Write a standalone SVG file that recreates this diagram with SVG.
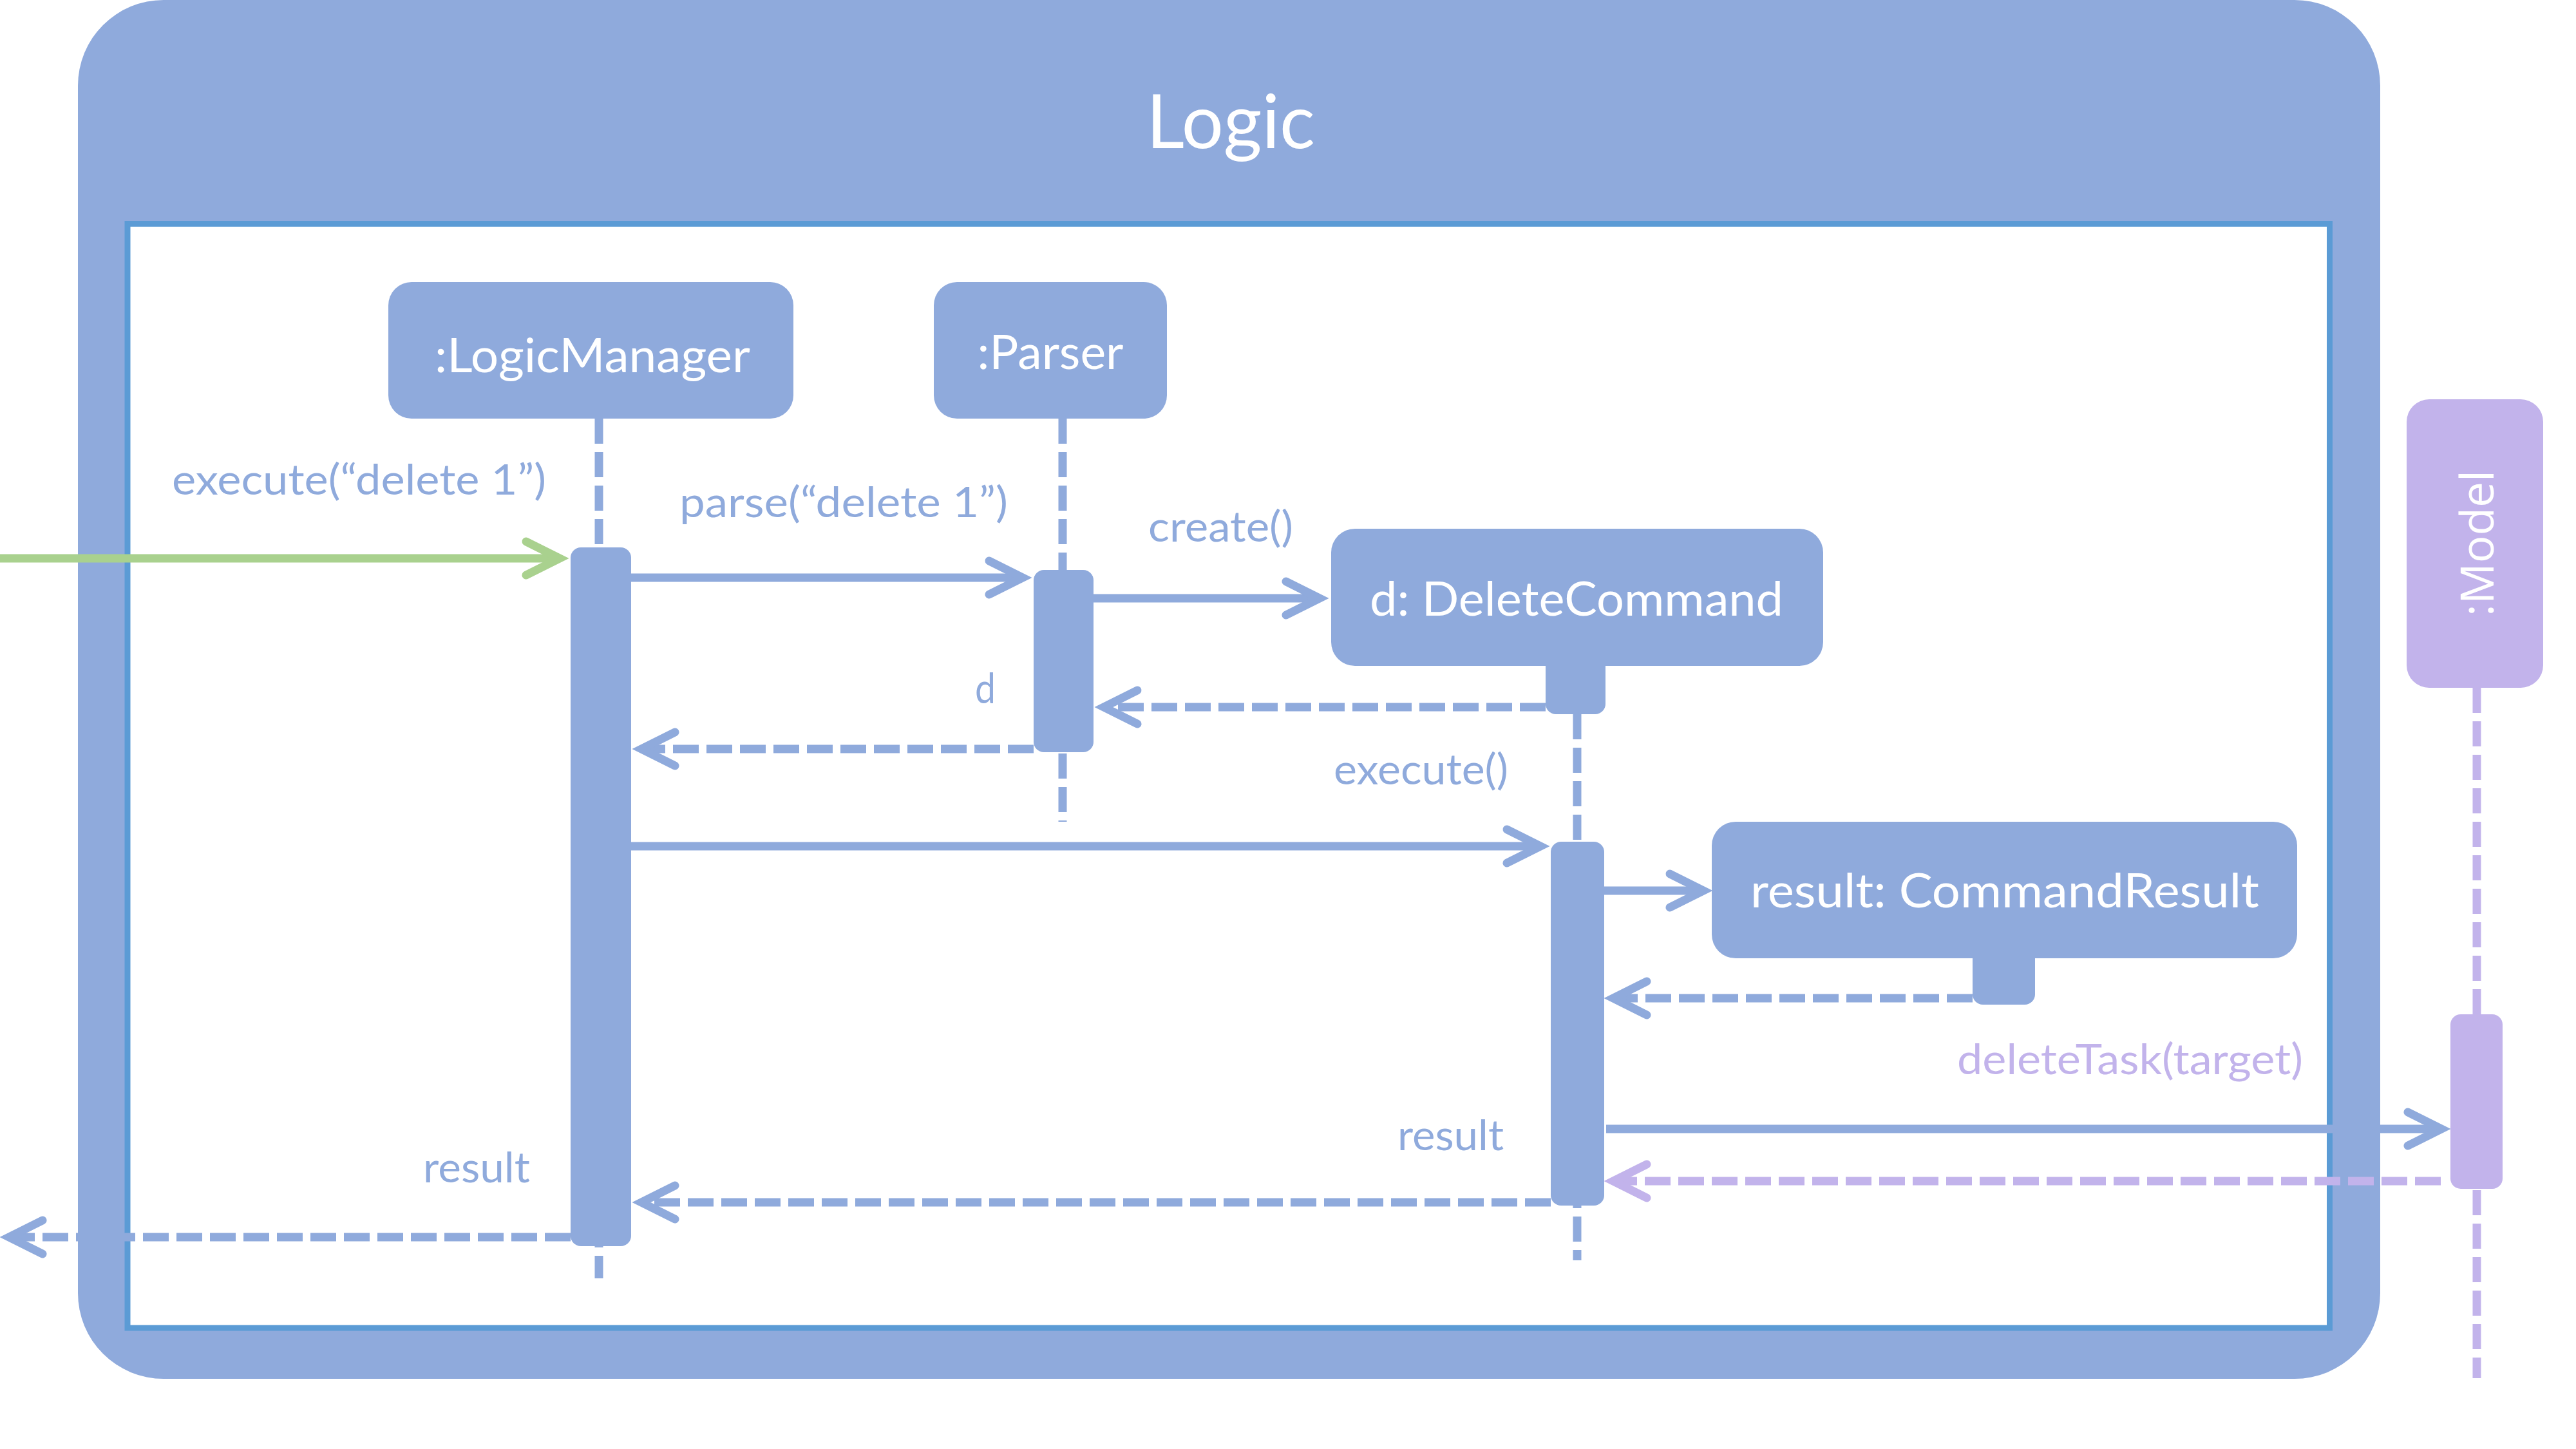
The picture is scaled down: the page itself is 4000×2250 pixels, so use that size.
<svg xmlns="http://www.w3.org/2000/svg" width="4000" height="2250" viewBox="0 0 4000 2250">
<style>
.frame{fill:#8FAADC}
.inner{fill:#FFFFFF;stroke:#5B9BD5;stroke-width:9}
.obj{fill:#8FAADC}
.objm{fill:#C2B3EB}
.title{font-family:Lato,"Liberation Sans",sans-serif;font-size:117px;fill:#FFFFFF;text-anchor:middle}
.objtxt{font-family:Lato,"Liberation Sans",sans-serif;font-size:73px;fill:#FFFFFF;text-anchor:middle}
.lbl{font-family:Lato,"Liberation Sans",sans-serif;font-size:65px;fill:#8FAADC}
.lblm{font-family:Lato,"Liberation Sans",sans-serif;font-size:65px;fill:#C2B3EB}
.life{stroke:#8FAADC;stroke-width:13;stroke-dasharray:39 13;fill:none}
.lifem{stroke:#C2B3EB;stroke-width:13;stroke-dasharray:39 13;fill:none}
.msg{stroke:#8FAADC;stroke-width:13;fill:none}
.ret{stroke:#8FAADC;stroke-width:13;fill:none;stroke-dasharray:40 12}
.retm{stroke:#C2B3EB;stroke-width:13;fill:none;stroke-dasharray:40 12}
.green{stroke:#A9D18E;stroke-width:13;fill:none}
</style>
<defs>
<marker id="hb" markerUnits="userSpaceOnUse" viewBox="-70 -40 100 80" markerWidth="100" markerHeight="80" refX="0" refY="0" orient="auto" overflow="visible">
<path d="M-52,-26 L0,0 L-52,26" fill="none" stroke="#8FAADC" stroke-width="13" stroke-linecap="round" stroke-linejoin="miter" stroke-dasharray="none"/>
</marker>
<marker id="hg" markerUnits="userSpaceOnUse" viewBox="-70 -40 100 80" markerWidth="100" markerHeight="80" refX="0" refY="0" orient="auto" overflow="visible">
<path d="M-52,-26 L0,0 L-52,26" fill="none" stroke="#A9D18E" stroke-width="13" stroke-linecap="round" stroke-linejoin="miter" stroke-dasharray="none"/>
</marker>
<marker id="hm" markerUnits="userSpaceOnUse" viewBox="-70 -40 100 80" markerWidth="100" markerHeight="80" refX="0" refY="0" orient="auto" overflow="visible">
<path d="M-52,-26 L0,0 L-52,26" fill="none" stroke="#C2B3EB" stroke-width="13" stroke-linecap="round" stroke-linejoin="miter" stroke-dasharray="none"/>
</marker>
</defs>

<g id="logic-frame">
<rect class="frame" x="121" y="0" width="3575" height="2141" rx="133" ry="133"/>
<rect class="inner" x="198" y="347.5" width="3419.5" height="1714.5"/>
<text class="title" x="1911" y="230" textLength="262" lengthAdjust="spacingAndGlyphs">Logic</text>
</g>

<g id="lifelines">
<line class="life" x1="930" y1="650" x2="930" y2="1985"/>
<line class="life" x1="1650" y1="650" x2="1650" y2="1276"/>
<line class="life" x1="2449" y1="1109" x2="2449" y2="1957"/>
<line class="lifem" x1="3846" y1="1068" x2="3846" y2="2140"/>
</g>

<g id="logicmanager">
<rect class="obj" x="603" y="438" width="629" height="212" rx="36"/>
<text class="objtxt" x="920" y="578" textLength="490" lengthAdjust="spacingAndGlyphs">:LogicManager</text>
<rect class="obj" x="886" y="850" width="94" height="1085" rx="16"/>
</g>

<g id="parser">
<rect class="obj" x="1450" y="438" width="362" height="212" rx="36"/>
<text class="objtxt" x="1631" y="573" textLength="227" lengthAdjust="spacingAndGlyphs">:Parser</text>
<rect class="obj" x="1605" y="885" width="93" height="283" rx="16"/>
</g>

<g id="deletecommand">
<rect class="obj" x="2400" y="1000" width="93" height="109" rx="16"/>
<rect class="obj" x="2067" y="821" width="764" height="213" rx="37"/>
<text class="objtxt" x="2448" y="956" textLength="642" lengthAdjust="spacingAndGlyphs">d: DeleteCommand</text>
<rect class="obj" x="2408" y="1307" width="83" height="565" rx="16"/>
</g>

<g id="commandresult">
<rect class="obj" x="3063" y="1450" width="97" height="110" rx="16"/>
<rect class="obj" x="2658" y="1276" width="909" height="212" rx="37"/>
<text class="objtxt" x="3113" y="1409" textLength="790" lengthAdjust="spacingAndGlyphs">result: CommandResult</text>
</g>

<g id="model">
<rect class="objm" x="3737" y="620" width="212" height="448" rx="35"/>
<text transform="translate(3872,843.5) rotate(-90)" x="0" y="0" font-family="'Open Sans','DejaVu Sans',sans-serif" font-size="72" fill="#FFFFFF" text-anchor="middle" textLength="227" lengthAdjust="spacingAndGlyphs">:Model</text>
<rect class="objm" x="3805" y="1575" width="81" height="271" rx="16"/>
</g>

<g id="connectors">
<line class="green" x1="0" y1="867" x2="869" y2="867" marker-end="url(#hg)"/>
<line class="msg" x1="980" y1="897" x2="1588" y2="897" marker-end="url(#hb)"/>
<line class="msg" x1="1698" y1="929" x2="2049" y2="929" marker-end="url(#hb)"/>
<line class="ret" x1="2400" y1="1098" x2="1714" y2="1098" marker-end="url(#hb)"/>
<line class="ret" x1="1605" y1="1163" x2="996" y2="1163" marker-end="url(#hb)"/>
<line class="msg" x1="980" y1="1314" x2="2392" y2="1314" marker-end="url(#hb)"/>
<line class="msg" x1="2491" y1="1383" x2="2645" y2="1383" marker-end="url(#hb)"/>
<line class="ret" x1="3063" y1="1550" x2="2505" y2="1550" marker-end="url(#hb)"/>
<line class="msg" x1="2494" y1="1753" x2="3791" y2="1753" marker-end="url(#hb)"/>
<line class="retm" x1="3790" y1="1834" x2="2505" y2="1834" marker-end="url(#hm)"/>
<line class="ret" x1="2408" y1="1867" x2="996" y2="1867" marker-end="url(#hb)"/>
<line class="ret" x1="886" y1="1921" x2="14" y2="1921" marker-end="url(#hb)"/>
</g>

<g id="labels">
<text class="lbl" x="267" y="768" textLength="581" lengthAdjust="spacingAndGlyphs">execute(“delete 1”)</text>
<text class="lbl" x="1055" y="803" textLength="510" lengthAdjust="spacingAndGlyphs">parse(“delete 1”)</text>
<text class="lbl" x="1783" y="841" textLength="225" lengthAdjust="spacingAndGlyphs">create()</text>
<text class="lbl" x="1514" y="1092" textLength="32" lengthAdjust="spacingAndGlyphs">d</text>
<text class="lbl" x="2071" y="1218" textLength="271" lengthAdjust="spacingAndGlyphs">execute()</text>
<text class="lblm" x="3039" y="1668" textLength="537" lengthAdjust="spacingAndGlyphs">deleteTask(target)</text>
<text class="lbl" x="2170" y="1786" textLength="165" lengthAdjust="spacingAndGlyphs">result</text>
<text class="lbl" x="657" y="1836" textLength="166" lengthAdjust="spacingAndGlyphs">result</text>
</g>
</svg>
